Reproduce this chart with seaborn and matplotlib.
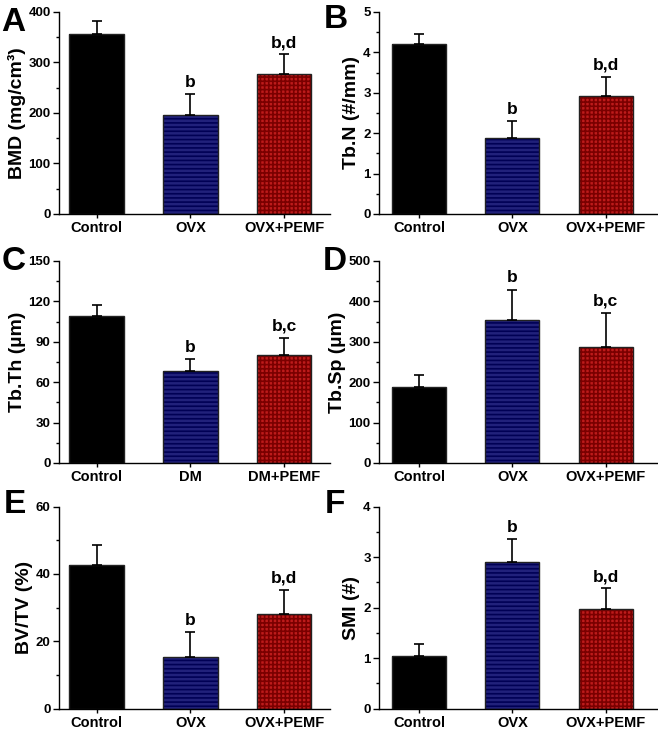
import numpy as np
import seaborn as sns
import matplotlib.pyplot as plt
from matplotlib.ticker import MultipleLocator

# group names
groups_ovx = ["Control", "OVX", "OVX+PEMF"]
groups_dm = ["Control", "DM", "DM+PEMF"]

# means, upper SD, significance letters for each panel
bmd_mean = [357, 195, 278]
bmd_err = [25, 43, 38]
bmd_sig = ["", "b", "b,d"]

tbn_mean = [4.20, 1.89, 2.92]
tbn_err = [0.26, 0.40, 0.48]
tbn_sig = ["", "b", "b,d"]

tbth_mean = [109, 68, 80]
tbth_err = [8, 9, 13]
tbth_sig = ["", "b", "b,c"]

tbsp_mean = [187, 353, 287]
tbsp_err = [31, 76, 85]
tbsp_sig = ["", "b", "b,c"]

bvtv_mean = [42.5, 15.3, 28.0]
bvtv_err = [6.0, 7.3, 7.3]
bvtv_sig = ["", "b", "b,d"]

smi_mean = [1.04, 2.90, 1.97]
smi_err = [0.24, 0.46, 0.41]
smi_sig = ["", "b", "b,d"]

face_colors = ["#000000", "#12128a", "#d80000"]
hatch_colors = ["#000000", "#000055", "#7a0000"]
hatches = ["", "----", "++++"]

sns.set_style("ticks")
plt.rcParams["font.family"] = ["Liberation Sans", "DejaVu Sans"]
plt.rcParams["font.weight"] = "bold"
plt.rcParams["hatch.linewidth"] = 1.2
for k in ["text.color", "axes.labelcolor", "xtick.color", "ytick.color"]:
    plt.rcParams[k] = "black"


def bar_panel(ax, groups, mean, err, sig, ylabel, ymax, major, minor, xlim):
    sns.barplot(x=groups, y=mean, hue=groups, palette=face_colors, legend=False,
                width=0.58, errorbar=None, ax=ax)
    for p, h, hc in zip(ax.patches, hatches, hatch_colors):
        p.set_hatch(h)
        p.set_edgecolor(hc)
        p.set_linewidth(0)
    # outline on top of the hatched fill
    sns.barplot(x=groups, y=mean, fill=False, color="#222222", linewidth=1,
                width=0.58, errorbar=None, ax=ax)
    xs = np.arange(len(groups))
    ax.errorbar(xs, mean, yerr=[np.zeros(len(err)), err], fmt="none",
                ecolor="black", elinewidth=1.2, capsize=3.5, capthick=1.2)
    for x, m, e, s in zip(xs, mean, err, sig):
        if s:
            ax.annotate(s, (x, m + e), xytext=(0, 3), textcoords="offset points",
                        ha="center", va="bottom", fontsize=12.5, fontweight="bold")
    ax.set_ylim(0, ymax)
    ax.set_xlim(*xlim)
    ax.yaxis.set_major_locator(MultipleLocator(major))
    ax.yaxis.set_minor_locator(MultipleLocator(minor))
    ax.set_ylabel(ylabel, fontsize=14, fontweight="bold", labelpad=2)
    ax.tick_params(axis="y", which="major", length=4, width=1, labelsize=9.5, pad=2)
    ax.tick_params(axis="y", which="minor", length=2.5, width=1)
    ax.tick_params(axis="x", length=3, width=1, labelsize=10.5, pad=2)
    for lab in ax.get_xticklabels() + ax.get_yticklabels():
        lab.set_fontweight("bold")
    sns.despine(ax=ax)
    for sp in ["left", "bottom"]:
        ax.spines[sp].set_linewidth(1)
        ax.spines[sp].set_color("black")


fig = plt.figure(figsize=(6.58, 7.32), dpi=100)

left_x = [0.0897, 0.412]
right_x = [0.576, 0.4225]
rows = [0.7077, 0.3675, 0.0320]
h = 0.276
xl_left = (-0.40, 2.49)
xl_right = (-0.43, 2.55)

axA = fig.add_axes([left_x[0], rows[0], left_x[1], h])
bar_panel(axA, groups_ovx, bmd_mean, bmd_err, bmd_sig, "BMD (mg/cm³)", 400, 100, 50, xl_left)
axB = fig.add_axes([right_x[0], rows[0], right_x[1], h])
bar_panel(axB, groups_ovx, tbn_mean, tbn_err, tbn_sig, "Tb.N (#/mm)", 5, 1, 0.5, xl_right)
axC = fig.add_axes([left_x[0], rows[1], left_x[1], h])
bar_panel(axC, groups_dm, tbth_mean, tbth_err, tbth_sig, "Tb.Th (µm)", 150, 30, 15, xl_left)
axD = fig.add_axes([right_x[0], rows[1], right_x[1], h])
bar_panel(axD, groups_ovx, tbsp_mean, tbsp_err, tbsp_sig, "Tb.Sp (µm)", 500, 100, 50, xl_right)
axE = fig.add_axes([left_x[0], rows[2], left_x[1], h])
bar_panel(axE, groups_ovx, bvtv_mean, bvtv_err, bvtv_sig, "BV/TV (%)", 60, 20, 10, xl_left)
axF = fig.add_axes([right_x[0], rows[2], right_x[1], h])
bar_panel(axF, groups_ovx, smi_mean, smi_err, smi_sig, "SMI (#)", 4, 1, 0.5, xl_right)

# panel letters
for letter, x, y in [("A", 0.002, 0.958), ("B", 0.492, 0.962), ("C", 0.002, 0.631),
                     ("D", 0.490, 0.631), ("E", 0.006, 0.299), ("F", 0.494, 0.299)]:
    fig.text(x, y, letter, fontsize=24, fontweight="bold", va="baseline", ha="left")

fig.savefig("out.png", dpi=100)
